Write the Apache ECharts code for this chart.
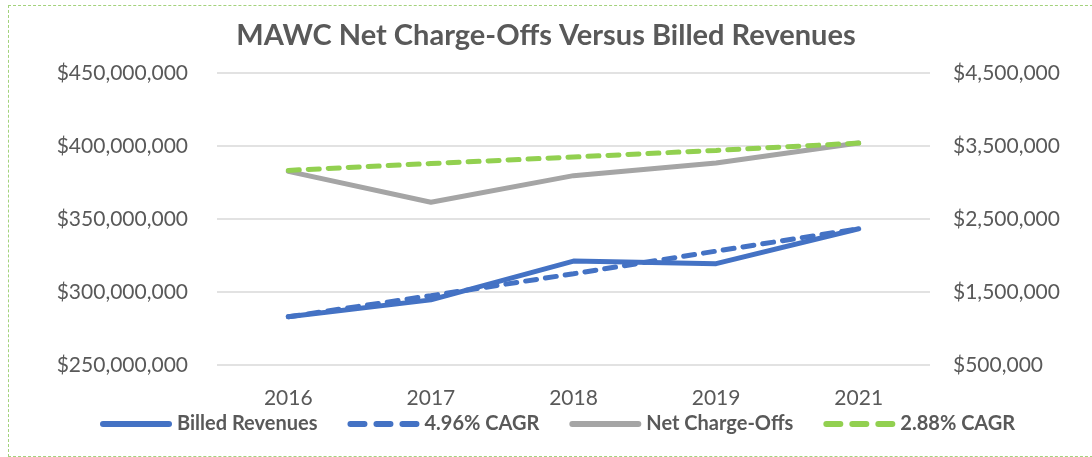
<!DOCTYPE html>
<html>
<head>
<meta charset="utf-8">
<script src="https://cdn.jsdelivr.net/npm/echarts@6/dist/echarts.min.js"></script>
<style>
    html, body { margin: 0; padding: 0; background: #fff; }
    #main { width: 1092px; height: 457px; position: relative; }
    #frame {
        position: absolute; left: 8px; top: 5px; width: 1100px; height: 452px;
        border: 1px dashed #a3d27c; box-sizing: border-box; pointer-events: none;
    }
</style>
</head>
<body>
<div id="main"></div>
<div id="frame"></div>
<script>
var years = ['2016', '2017', '2018', '2019', '2021'];
var billedRevenues = [283000000, 294600000, 321200000, 319400000, 343300000];
var billedCagr = [283000000, 297500000, 312500000, 328000000, 343300000];
var netChargeOffs = [3153000, 2729000, 3094000, 3267000, 3540000];
var chargeOffCagr = [3166000, 3260000, 3349000, 3440000, 3540000];

var textColor = '#595959';
var fontName = 'Lato';

// legend icons drawn as paths so the line looks thick like the original
var solidIcon = 'path://M3,0H69A3,3 0 0 1 69,6H3A3,3 0 0 1 3,0Z';
var dashIcon = 'path://M3,0H17A3,3 0 0 1 17,6H3A3,3 0 0 1 3,0Z' +
    'M29,0H43A3,3 0 0 1 43,6H29A3,3 0 0 1 29,0Z' +
    'M55,0H69A3,3 0 0 1 69,6H55A3,3 0 0 1 55,0Z';

function money(v) {
    return '$' + v.toString().replace(/\B(?=(\d{3})+(?!\d))/g, ',');
}

var chart = echarts.init(document.getElementById('main'));

function lineSeries(name, data, color, dashed, yIndex) {
    return {
        name: name,
        type: 'line',
        yAxisIndex: yIndex,
        data: data,
        symbol: 'none',
        lineStyle: {
            color: color,
            width: 5,
            type: dashed ? [11, 9] : 'solid',
            cap: 'round'
        },
        itemStyle: {color: color}
    };
}

chart.setOption({
    animation: false,
    title: {
        text: 'MAWC Net Charge-Offs Versus Billed Revenues',
        left: 'center',
        top: 16,
        textStyle: {color: textColor, fontFamily: fontName, fontSize: 29, fontWeight: 'bold'}
    },
    legend: {
        top: 409,
        left: 95,
        itemWidth: 72,
        itemHeight: 6,
        itemGap: 30,
        textStyle: {color: textColor, fontFamily: fontName, fontSize: 20, fontWeight: 'bold'},
        data: [
            {name: 'Billed Revenues', icon: solidIcon},
            {name: '4.96% CAGR', icon: dashIcon},
            {name: 'Net Charge-Offs', icon: solidIcon},
            {name: '2.88% CAGR', icon: dashIcon}
        ]
    },
    grid: {left: 217, right: 162, top: 73, bottom: 92},
    xAxis: {
        type: 'category',
        data: years,
        axisLine: {show: false},
        axisTick: {show: false},
        axisLabel: {color: textColor, fontFamily: fontName, fontSize: 21, margin: 23}
    },
    yAxis: [
        {
            type: 'value',
            min: 250000000,
            max: 450000000,
            interval: 50000000,
            axisLabel: {color: textColor, fontFamily: fontName, fontSize: 21, margin: 29, formatter: money},
            splitLine: {lineStyle: {color: '#d9d9d9', width: 1.5}}
        },
        {
            type: 'value',
            min: 500000,
            max: 4500000,
            interval: 1000000,
            axisLabel: {color: textColor, fontFamily: fontName, fontSize: 21, margin: 23, formatter: money},
            splitLine: {show: false}
        }
    ],
    series: [
        lineSeries('Billed Revenues', billedRevenues, '#4472c4', false, 0),
        lineSeries('4.96% CAGR', billedCagr, '#4472c4', true, 0),
        lineSeries('Net Charge-Offs', netChargeOffs, '#a5a5a5', false, 1),
        lineSeries('2.88% CAGR', chargeOffCagr, '#92d050', true, 1)
    ]
});
</script>
</body>
</html>
